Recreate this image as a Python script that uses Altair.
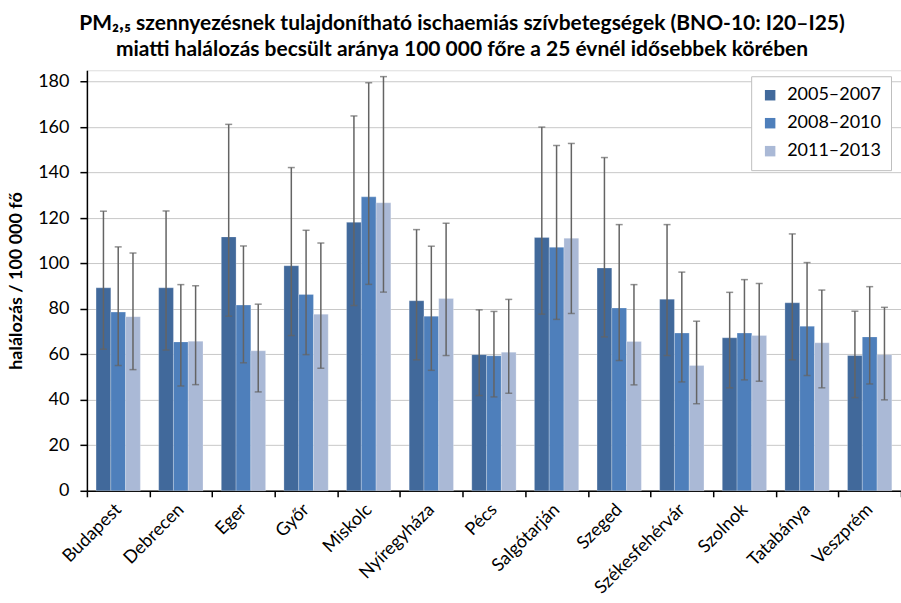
import altair as alt
import pandas as pd

cities = ["Budapest", "Debrecen", "Eger", "Győr", "Miskolc", "Nyíregyháza", "Pécs",
          "Salgótarján", "Szeged", "Székesfehérvár", "Szolnok", "Tatabánya", "Veszprém"]
periods = ["2005–2007", "2008–2010", "2011–2013"]

v_2005 = [89.3, 89.3, 111.7, 99.0, 118.1, 83.6, 59.9, 111.4, 98.0, 84.3, 67.3, 82.7, 59.5]
lo_2005 = [62.3, 61.9, 76.8, 68.3, 81.5, 57.6, 41.9, 77.7, 67.7, 59.5, 45.3, 57.6, 41.0]
hi_2005 = [123.0, 123.1, 161.2, 142.2, 164.9, 114.9, 79.6, 160.0, 146.6, 117.1, 87.3, 113.0, 79.0]

v_2008 = [78.6, 65.5, 81.7, 86.4, 129.3, 76.8, 59.4, 107.1, 80.4, 69.4, 69.4, 72.4, 67.7]
lo_2008 = [55.1, 46.1, 56.3, 59.9, 90.8, 53.0, 41.3, 75.4, 57.3, 47.9, 48.8, 50.7, 47.0]
hi_2008 = [107.3, 90.7, 107.7, 114.6, 179.5, 107.6, 78.9, 151.9, 117.1, 96.2, 92.9, 100.4, 89.8]

v_2011 = [76.6, 65.8, 61.6, 77.7, 126.7, 84.6, 61.0, 111.1, 65.7, 55.1, 68.3, 65.1, 59.9]
lo_2011 = [53.3, 46.7, 43.5, 53.9, 87.4, 59.5, 42.9, 78.0, 46.6, 38.3, 48.2, 45.3, 40.0]
hi_2011 = [104.6, 90.2, 82.1, 109.0, 182.2, 117.7, 84.2, 152.8, 90.7, 74.6, 91.2, 88.3, 80.7]

y_ticks = [0, 20, 40, 60, 80, 100, 120, 140, 160, 180]
colors = ["#41699B", "#4E7FBB", "#AAB9D6"]

rows = []
for p, vals, los, his in zip(periods, [v_2005, v_2008, v_2011],
                             [lo_2005, lo_2008, lo_2011], [hi_2005, hi_2008, hi_2011]):
    for c, v, l, h in zip(cities, vals, los, his):
        rows.append({"city": c, "period": p, "value": v, "lo": l, "hi": h})
df = pd.DataFrame(rows)

FONT = "Lato"

x_scale = alt.Scale(paddingInner=0, paddingOuter=0)
x_enc = alt.X("city:N", sort=cities, title=None, scale=x_scale,
              axis=alt.Axis(labelAngle=-45, labelAlign="right", labelBaseline="middle",
                            labelFont=FONT, labelFontSize=18, labelColor="#000000",
                            labelPadding=10, tickBand="extent", tickSize=6,
                            tickColor="#000000", domainColor="#000000", domainWidth=1.5,
                            tickWidth=1.5, grid=False, labelOverlap=False))
xo_enc = alt.XOffset("period:N", sort=periods,
                     scale=alt.Scale(paddingInner=0, paddingOuter=0.62))
y_scale = alt.Scale(domain=[0, 185], nice=False)

bars = alt.Chart(df).mark_bar(stroke="#FFFFFF", strokeOpacity=0.25, strokeWidth=1).encode(
    x=x_enc,
    xOffset=xo_enc,
    y=alt.Y("value:Q", scale=y_scale, title="halálozás / 100 000 fő",
            axis=alt.Axis(values=y_ticks, labelFont=FONT, labelFontSize=18,
                          labelColor="#000000", tickSize=7, labelPadding=11,
                          tickColor="#000000", domainColor="#000000", domainWidth=1.5,
                          tickWidth=1.5, gridColor="#C8C8C8", gridWidth=1,
                          titleFont=FONT, titleFontSize=18, titleFontWeight="bold",
                          titleColor="#000000", titlePadding=12)),
    color=alt.Color("period:N", sort=periods, title=None,
                    scale=alt.Scale(domain=periods, range=colors),
                    legend=alt.Legend(orient="none", legendX=665, legendY=6,
                                      symbolType="square", symbolSize=110,
                                      symbolStrokeWidth=0,
                                      labelFont=FONT, labelFontSize=18,
                                      labelColor="#000000", rowPadding=10,
                                      padding=10, strokeColor="#BFBFBF",
                                      fillColor="#FFFFFF", labelOffset=8)),
)

rules = alt.Chart(df).mark_rule(color="#646464", strokeWidth=1.5).encode(
    x=alt.X("city:N", sort=cities, scale=x_scale),
    xOffset=xo_enc,
    y=alt.Y("lo:Q", scale=y_scale),
    y2="hi:Q",
)
cap_hi = alt.Chart(df).mark_tick(color="#646464", size=7, thickness=1.5).encode(
    x=alt.X("city:N", sort=cities, scale=x_scale),
    xOffset=xo_enc,
    y=alt.Y("hi:Q", scale=y_scale),
)
cap_lo = alt.Chart(df).mark_tick(color="#646464", size=7, thickness=1.5).encode(
    x=alt.X("city:N", sort=cities, scale=x_scale),
    xOffset=xo_enc,
    y=alt.Y("lo:Q", scale=y_scale),
)

chart = alt.layer(bars, rules, cap_hi, cap_lo).properties(
    width=815, height=421,
    padding={"left": 87, "top": 70, "right": 0, "bottom": 112},
    autosize=alt.AutoSizeParams(type="none"),
    title=alt.Title(
        ["PM₂,₅ szennyezésnek tulajdonítható ischaemiás szívbetegségek (BNO-10: I20–I25)",
         "miatti halálozás becsült aránya 100 000 főre a 25 évnél idősebbek körében"],
        anchor="middle", dx=-32, offset=10, font=FONT, fontSize=21, fontWeight="bold",
        color="#000000", lineHeight=26),
).configure_view(stroke="#C8C8C8").configure(background="#FFFFFF")

chart.save("out.html", embed_options={"renderer": "svg", "actions": False})
